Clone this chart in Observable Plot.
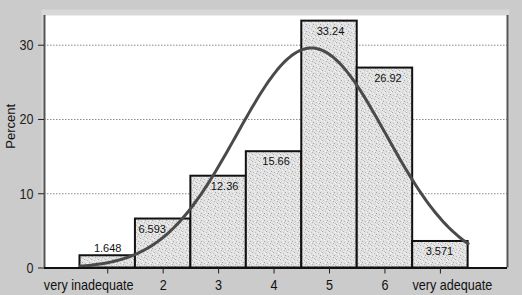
<!DOCTYPE html>
<html><head><meta charset="utf-8">
<script src="https://cdn.jsdelivr.net/npm/d3@7"></script>
<script src="https://cdn.jsdelivr.net/npm/@observablehq/plot@0.6"></script>
<style>
html,body{margin:0;padding:0;background:#cbcbcb;}
svg{display:block;}
</style></head><body><div id="chart"></div>
<script>
const categories = [1, 2, 3, 4, 5, 6, 7];
const tickLabels = ["very inadequate", "2", "3", "4", "5", "6", "very adequate"];
const percents = [1.648, 6.593, 12.36, 15.66, 33.24, 26.92, 3.571];
const valueLabels = ["1.648", "6.593", "12.36", "15.66", "33.24", "26.92", "3.571"];
const yTicks = [0, 10, 20, 30];

const bars = categories.map((c, i) => ({cat: c, pct: percents[i], label: valueLabels[i]}));

// Normal curve fitted to the distribution (mean and sd of the histogram itself)
const total = d3.sum(percents);
const mean = d3.sum(bars, d => d.cat * d.pct) / total;
const sd = Math.sqrt(d3.sum(bars, d => d.pct * (d.cat - mean) ** 2) / total);
const normal = x => total / (sd * Math.sqrt(2 * Math.PI)) * Math.exp(-0.5 * ((x - mean) / sd) ** 2);
const curve = d3.range(0.5, 7.5001, 0.05).map(x => ({x, y: normal(x)}));

const xDomain = [-0.14, 8.21];
const labelNudge = [0, -11, 6, 2, 1, 3, -1];
const tickNudge = [-19, 0, 0, 0, 0, 0, 12];

const labelMarks = bars.map((d, i) => Plot.text([d], {
  x: "cat", y: "pct", text: "label",
  dx: labelNudge[i],
  dy: d.pct < 3 ? -7 : 10,
  lineAnchor: "middle", fontSize: 11, fill: "#111"
}));

const tickLabelMarks = categories.map((c, i) => Plot.text([c], {
  x: d => d, frameAnchor: "bottom", text: d => tickLabels[d - 1],
  dx: tickNudge[i], dy: 17.5, lineAnchor: "middle", fontSize: 15, fill: "#111",
  className: "narrowlbl"
}));

const chart = Plot.plot({
  width: 522, height: 295,
  marginLeft: 44, marginRight: 15, marginTop: 15, marginBottom: 27.5,
  style: {background: "#cbcbcb", fontFamily: "'Liberation Sans', Arial, sans-serif", fontSize: "13px", color: "#222"},
  x: {domain: xDomain},
  y: {domain: [0, 34]},
  marks: [
    Plot.frame({fill: "#d8d8d8", stroke: "none", insetTop: -6, insetLeft: -3, insetRight: -2}),
    Plot.frame({fill: "white", stroke: "none"}),
    Plot.gridY(yTicks.slice(1), {stroke: "#8a8a8a", strokeOpacity: 1, strokeDasharray: "1.5,1.5"}),
    Plot.rectY(bars, {x1: d => d.cat - 0.5, x2: d => d.cat + 0.5, y: "pct", fill: "url(#stipple)", stroke: "#111", strokeWidth: 2}),
    Plot.line(curve, {x: "x", y: "y", stroke: "#4a4a4a", strokeWidth: 3}),
    ...labelMarks,
    Plot.ruleX([xDomain[0]], {stroke: "#555", strokeWidth: 2}),
    Plot.ruleX([xDomain[1]], {stroke: "#555", strokeWidth: 2}),
    Plot.ruleY([0], {stroke: "#111", strokeWidth: 2}),
    Plot.axisY({ticks: yTicks, tickSize: 6, tickPadding: 5, label: null, fontSize: 15}),
    Plot.text(["Percent"], {frameAnchor: "left", text: d => d, rotate: -90, dx: -34, dy: 7, fontSize: 13, fill: "#111"}),
    Plot.axisX({ticks: categories, tickFormat: () => "", tickSize: 6, label: null}),
    ...tickLabelMarks
  ]
});

const s = d3.select(chart);
const pat = s.insert("defs", ":first-child").append("pattern")
  .attr("id", "stipple").attr("patternUnits", "userSpaceOnUse").attr("width", 7).attr("height", 7);
pat.append("rect").attr("width", 7).attr("height", 7).attr("fill", "#e1e1e1");
[[0,0,"#aaaaaa"],[3,1,"#c0c0c0"],[5,3,"#a4a4a4"],[1,4,"#bababa"],[4,5,"#b2b2b2"],[6,6,"#c2c2c2"],[2,2,"#f5f5f5"],[6,1,"#f8f8f8"],[0,6,"#f2f2f2"],[3,4,"#fafafa"],[5,0,"#f0f0f0"]]
  .forEach(([x, y, c]) => pat.append("rect").attr("x", x).attr("y", y).attr("width", 1).attr("height", 1).attr("fill", c));

document.getElementById("chart").appendChild(chart);

// condensed look for the axis tick labels (real text, horizontally compressed)
s.selectAll(".narrowlbl text, g[aria-label='y-axis tick label'] text").each(function () {
  const w = this.getComputedTextLength();
  if (w > 0) {
    this.setAttribute("textLength", (w * 0.84).toFixed(1));
    this.setAttribute("lengthAdjust", "spacingAndGlyphs");
  }
});
</script></body></html>
